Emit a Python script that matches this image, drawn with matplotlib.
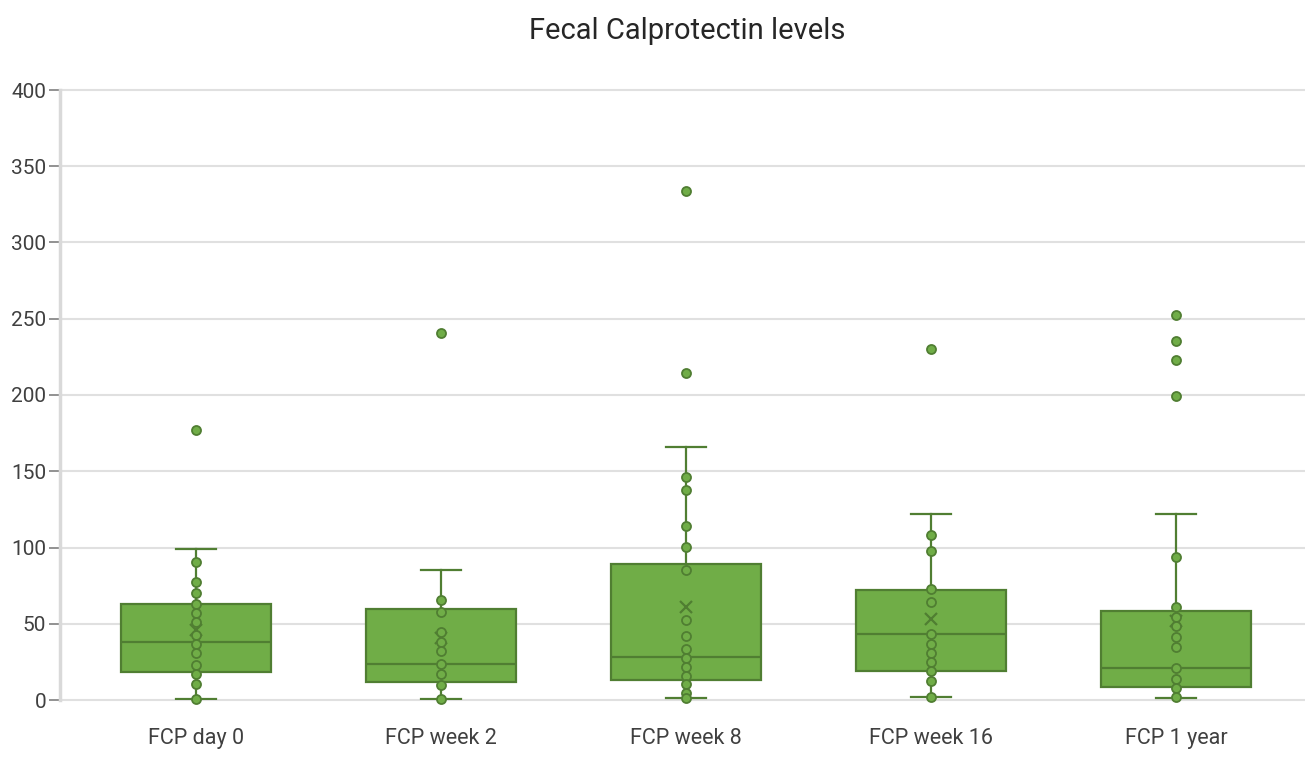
import numpy as np
import matplotlib.pyplot as plt

plt.rcParams["font.family"] = ["Roboto", "DejaVu Sans"]

# data
categories = ["FCP day 0", "FCP week 2", "FCP week 8", "FCP week 16", "FCP 1 year"]

day0 = [177.3, 90.6, 77.3, 70.3, 63.1, 57.0, 51.3, 42.6, 36.7, 30.8, 22.9, 16.8, 10.5, 0.7]
week2 = [240.4, 65.3, 57.6, 44.5, 37.9, 32.0, 23.7, 17.1, 9.9, 0.7]
week8 = [333.5, 214.6, 146.0, 137.6, 114.3, 100.3, 85.4, 52.5, 41.9, 33.3, 27.8, 21.5, 15.8, 10.2, 4.5, 1.5]
week16 = [230.0, 108.2, 97.9, 72.6, 64.0, 43.1, 36.9, 30.8, 24.7, 18.8, 12.7, 2.2]
year1 = [252.6, 235.3, 223.0, 199.6, 93.6, 61.3, 54.7, 48.3, 41.2, 34.6, 20.8, 13.8, 7.7, 1.8]
points = [day0, week2, week8, week16, year1]

q1 = [18.6, 11.6, 12.9, 19.2, 8.3]
medians = [37.8, 23.7, 28.3, 43.1, 20.8]
q3 = [62.9, 59.8, 89.4, 72.1, 58.1]
whislo = [0.7, 0.7, 1.5, 2.2, 1.0]
whishi = [98.9, 85.0, 165.7, 122.2, 122.0]
means = [45.9, 40.5, 61.0, 52.9, 52.0]

FILL = "#70ad47"
EDGE = "#507e32"

fig = plt.figure(figsize=(13.05, 7.72), dpi=100)
ax = fig.add_axes([60 / 1305, 72 / 772, 1245 / 1305, 610 / 772])

stats = []
for i in range(len(categories)):
    stats.append(dict(med=medians[i], q1=q1[i], q3=q3[i], whislo=whislo[i],
                      whishi=whishi[i], mean=means[i], label=categories[i]))

pos = np.arange(len(categories))
ax.bxp(stats, positions=pos, widths=0.61, capwidths=0.165, patch_artist=True,
       showmeans=True, showfliers=False,
       boxprops=dict(facecolor=FILL, edgecolor=EDGE, linewidth=1.6),
       medianprops=dict(color=EDGE, linewidth=1.6),
       whiskerprops=dict(color=EDGE, linewidth=1.6),
       capprops=dict(color=EDGE, linewidth=1.6),
       meanprops=dict(marker="x", markeredgecolor=EDGE, markersize=9, markeredgewidth=1.6))

for i, vals in enumerate(points):
    ax.plot(np.full(len(vals), pos[i]), vals, "o", color=FILL, markeredgecolor=EDGE,
            markersize=6.5, markeredgewidth=1.3, zorder=5, clip_on=False)

ax.set_xlim(-0.555, 4.527)
ax.set_ylim(0, 400)
ax.set_yticks(range(0, 401, 50))
ax.set_xticks(pos)
ax.set_xticklabels(categories)
ax.grid(axis="y", color="#e0e0e0", linewidth=1.5)
for gl in ax.get_ygridlines():
    gl.set_clip_on(False)
ax.set_axisbelow(True)

for s in ["top", "right", "bottom"]:
    ax.spines[s].set_visible(False)
ax.spines["left"].set_color("#d9d9d9")
ax.spines["left"].set_linewidth(2.5)

ax.tick_params(axis="y", length=8, width=1.2, color="#7f7f7f", labelsize=15,
               labelcolor="#404040", pad=2)
ax.tick_params(axis="x", length=0, labelsize=15.5, labelcolor="#404040", pad=20)

fig.text(687 / 1305, 1 - 31 / 772, "Fecal Calprotectin levels", ha="center",
         va="center", fontsize=21, color="#262626")

fig.savefig("out.png", dpi=100)
